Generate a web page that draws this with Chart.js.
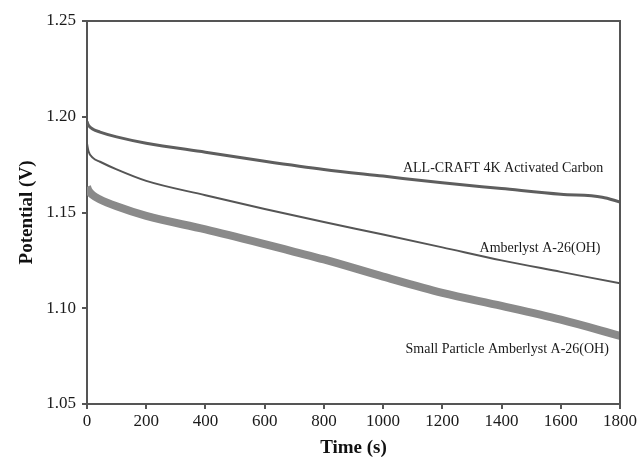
<!DOCTYPE html>
<html>
<head>
<meta charset="utf-8">
<script src="https://cdn.jsdelivr.net/npm/chart.js@4.4.1/dist/chart.umd.min.js"></script>
<style>
  html, body { margin: 0; padding: 0; background: #fff; }
  #wrap { width: 639px; height: 461px; }
</style>
</head>
<body>
<div id="wrap"><canvas id="chart" width="639" height="461"></canvas></div>
<script>
// Time (s) and potential (V)
const carbonTime = [0, 5, 20, 44, 100, 200, 400, 600, 800, 1000, 1200, 1400, 1600, 1740, 1800];
const carbonV = [1.1975, 1.1955, 1.1935, 1.192, 1.1895, 1.1862, 1.1815, 1.1768, 1.1725, 1.169, 1.1655, 1.1625, 1.1595, 1.158, 1.1555];

const amberTime = [0, 5, 20, 44, 100, 200, 400, 600, 800, 1000, 1200, 1400, 1600, 1800];
const amberV = [1.186, 1.182, 1.1785, 1.1765, 1.1725, 1.1665, 1.159, 1.1518, 1.145, 1.1385, 1.1318, 1.125, 1.119, 1.113];

const smallTime = [0, 5, 20, 44, 100, 200, 400, 600, 700, 800, 1000, 1200, 1400, 1600, 1800];
const smallV = [1.1635, 1.1615, 1.159, 1.1568, 1.1532, 1.1482, 1.1412, 1.1335, 1.1295, 1.1255, 1.1165, 1.108, 1.1012, 1.094, 1.0856];

const xTicks = [0, 200, 400, 600, 800, 1000, 1200, 1400, 1600, 1800];
const yTicks = [1.05, 1.10, 1.15, 1.20, 1.25];

// curve labels, placed in data units
const seriesLabels = ['ALL-CRAFT 4K Activated Carbon', 'Amberlyst A-26(OH)', 'Small Particle Amberlyst A-26(OH)'];
const labelTime = [1405, 1530, 1419];
const labelV = [1.1733, 1.1315, 1.0783];

const pts = (xs, ys) => xs.map((x, i) => ({ x: x, y: ys[i] }));

const AXIS = '#555';
const SERIF = '"Liberation Serif", "Times New Roman", serif';

// box frame on top/right plus the curve labels
const frameAndLabels = {
    id: 'frameAndLabels',
    afterDraw(chart) {
        const { ctx, chartArea: a, scales } = chart;
        ctx.save();
        ctx.strokeStyle = AXIS;
        ctx.lineWidth = 2;
        ctx.beginPath();
        ctx.moveTo(a.left, a.top);
        ctx.lineTo(a.right, a.top);
        ctx.lineTo(a.right, a.bottom);
        ctx.stroke();

        ctx.fillStyle = '#1a1a1a';
        ctx.font = '14px ' + SERIF;
        ctx.textAlign = 'center';
        ctx.textBaseline = 'middle';
        seriesLabels.forEach((t, i) => {
            ctx.fillText(t, scales.x.getPixelForValue(labelTime[i]), scales.y.getPixelForValue(labelV[i]));
        });
        ctx.restore();
    }
};

new Chart(document.getElementById('chart').getContext('2d'), {
    type: 'line',
    data: {
        datasets: [{
            label: seriesLabels[2],
            data: pts(smallTime, smallV),
            borderColor: '#8a8a8a',
            borderWidth: 8,
            pointRadius: 0,
            cubicInterpolationMode: 'monotone'
        }, {
            label: seriesLabels[1],
            data: pts(amberTime, amberV),
            borderColor: '#555',
            borderWidth: 2,
            pointRadius: 0,
            cubicInterpolationMode: 'monotone'
        }, {
            label: seriesLabels[0],
            data: pts(carbonTime, carbonV),
            borderColor: '#5e5e5e',
            borderWidth: 3,
            pointRadius: 0,
            cubicInterpolationMode: 'monotone'
        }]
    },
    options: {
        responsive: false,
        animation: false,
        layout: { padding: { left: 0, right: 19, top: 21, bottom: 0 } },
        plugins: { legend: { display: false }, tooltip: { enabled: false } },
        scales: {
            x: {
                type: 'linear',
                min: 0, max: 1800,
                afterBuildTicks: s => { s.ticks = xTicks.map(v => ({ value: v })); },
                afterFit: s => { s.height = 57; },
                grid: { drawOnChartArea: false, drawTicks: true, tickLength: 5, color: AXIS, lineWidth: 2 },
                border: { display: true, color: AXIS, width: 2 },
                ticks: { color: '#1a1a1a', font: { family: SERIF, size: 17 }, padding: 2, maxRotation: 0, callback: v => String(v) },
                title: { display: true, text: 'Time (s)', color: '#111', font: { family: SERIF, size: 19, weight: 'bold' }, padding: { top: 0, bottom: 2 } }
            },
            y: {
                min: 1.05, max: 1.25,
                afterBuildTicks: s => { s.ticks = yTicks.map(v => ({ value: v })); },
                afterFit: s => { s.width = 87; },
                grid: { drawOnChartArea: false, drawTicks: true, tickLength: 5, color: AXIS, lineWidth: 2 },
                border: { display: true, color: AXIS, width: 2 },
                ticks: { color: '#1a1a1a', font: { family: SERIF, size: 17 }, padding: 6, callback: v => v.toFixed(2) },
                title: { display: true, text: 'Potential (V)', color: '#111', font: { family: SERIF, size: 19, weight: 'bold' }, padding: { top: 16, bottom: 0 } }
            }
        }
    },
    plugins: [frameAndLabels]
});
</script>
</body>
</html>
